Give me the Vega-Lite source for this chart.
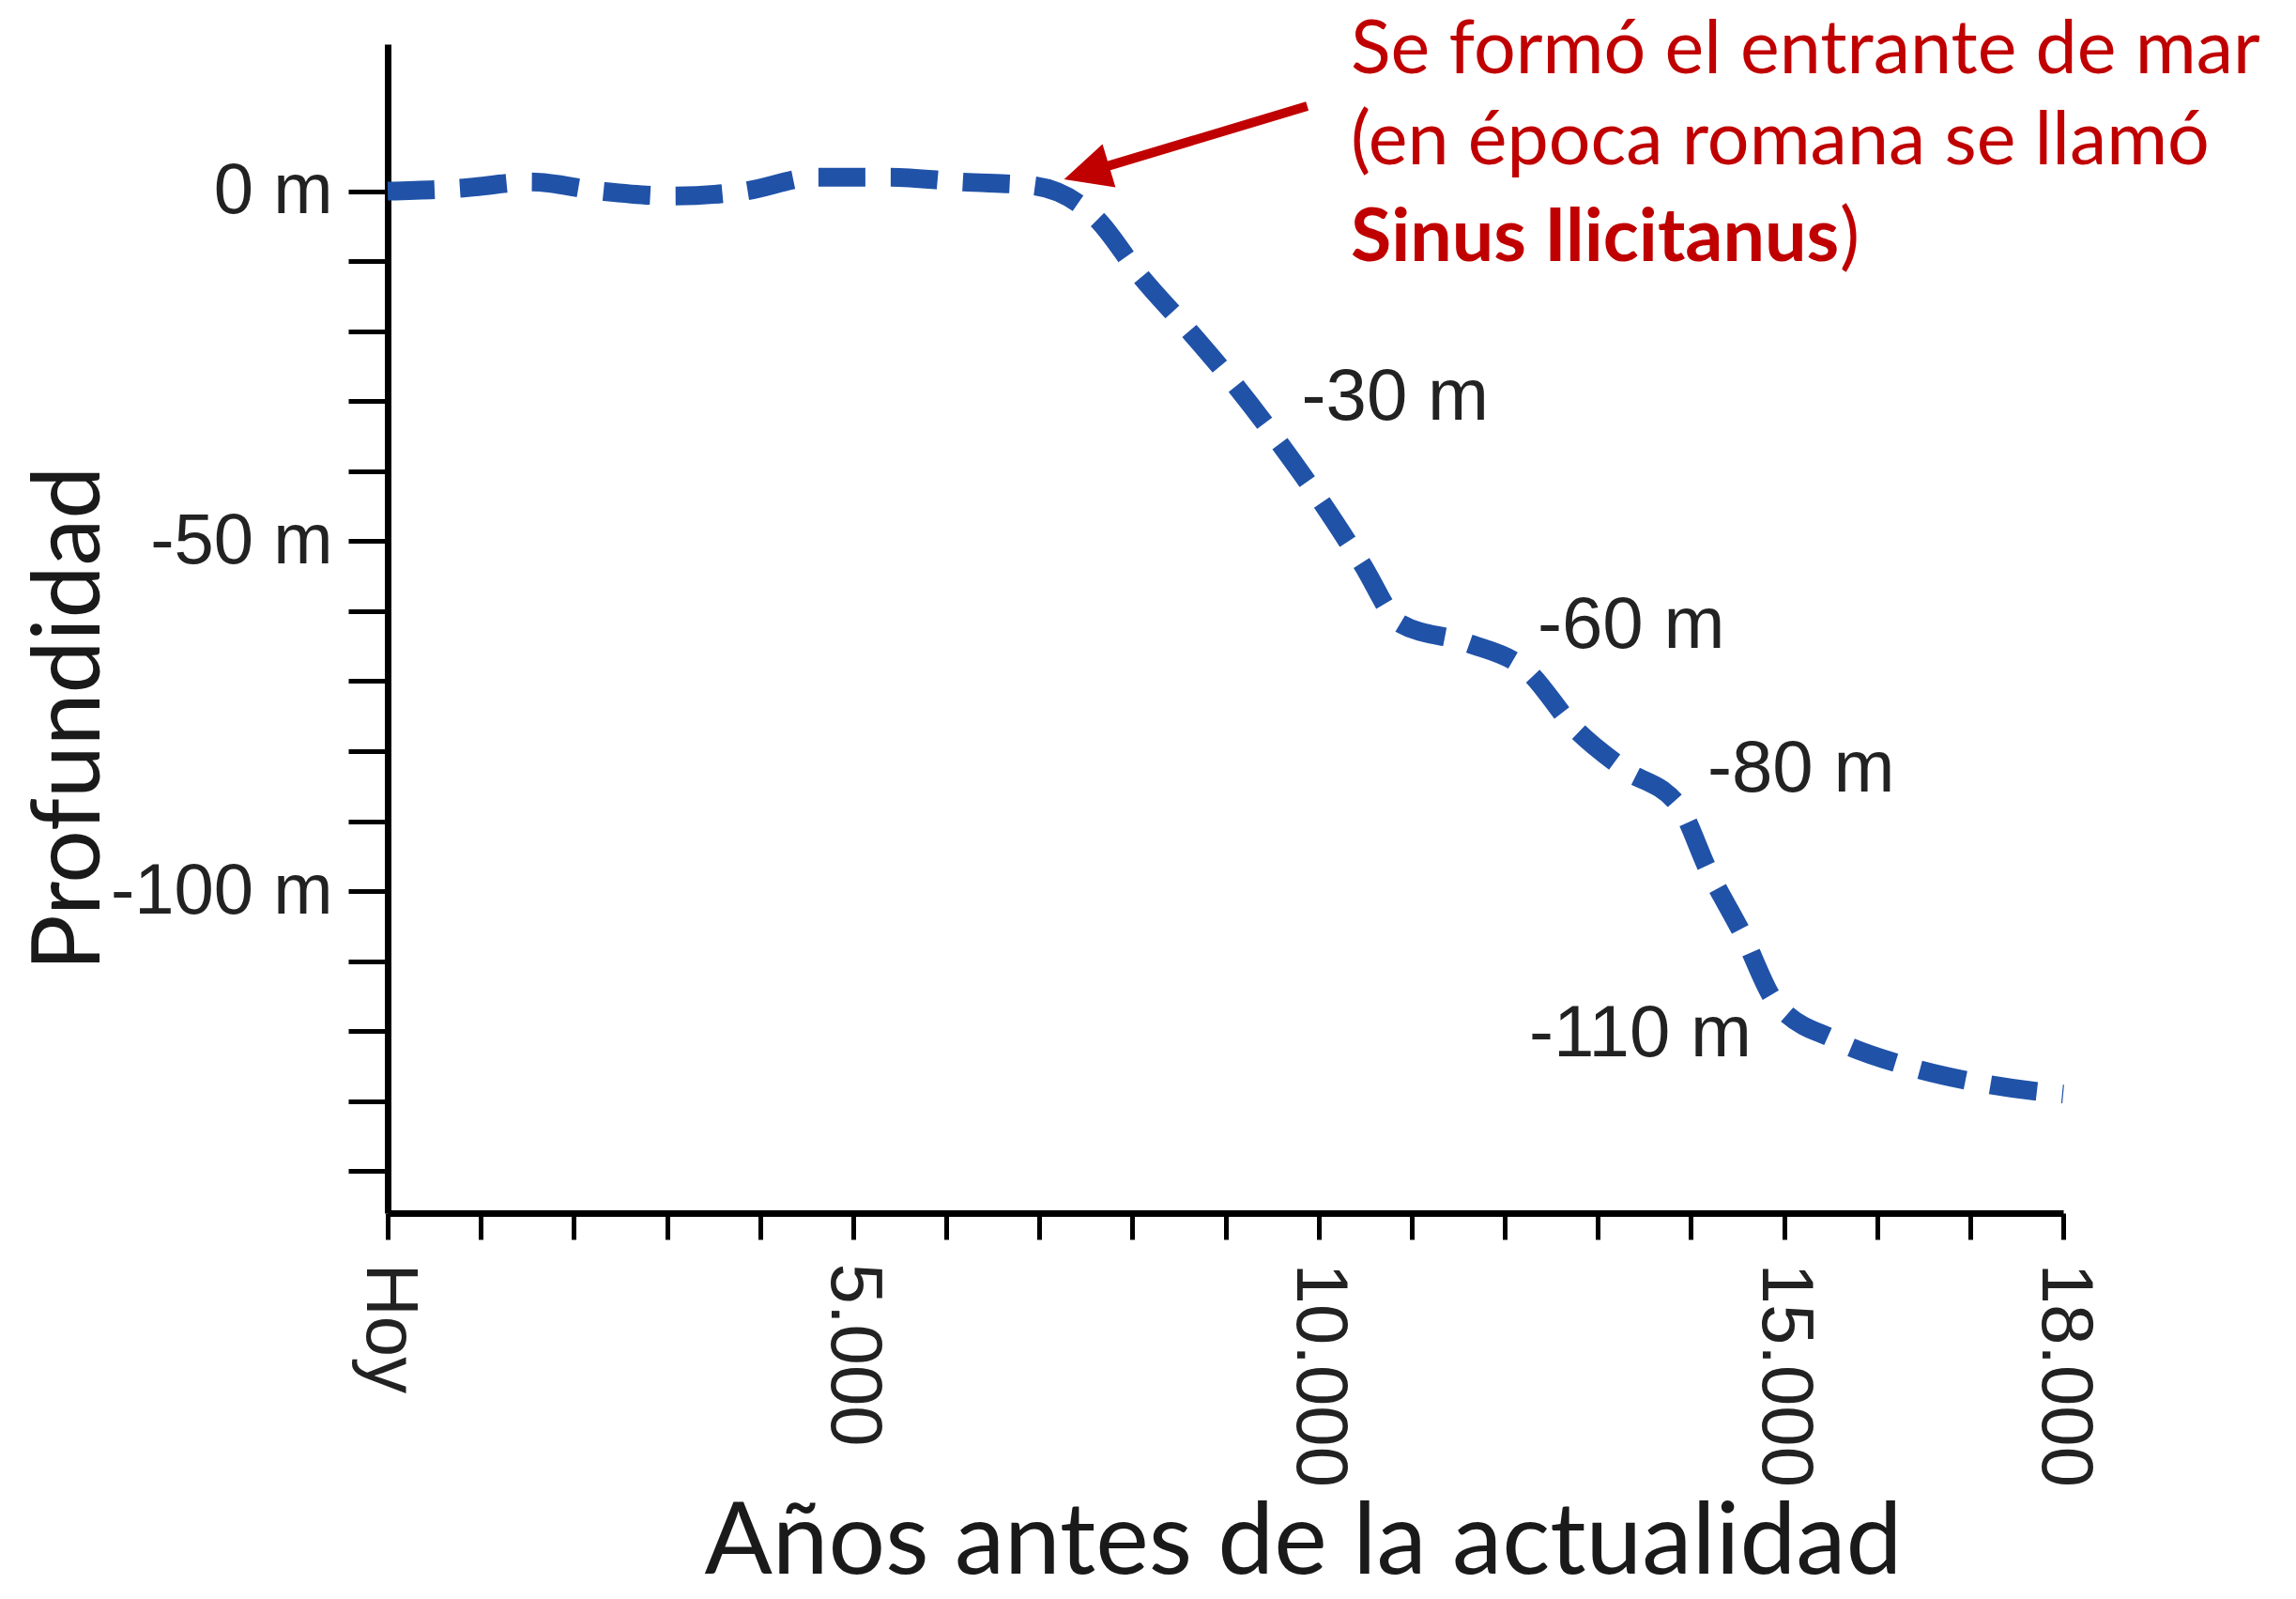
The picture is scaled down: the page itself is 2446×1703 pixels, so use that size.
{
  "$schema": "https://vega.github.io/schema/vega-lite/v6.json",
  "width": 1785,
  "height": 1245,
  "autosize": {"type": "none"},
  "padding": {"left": 413, "top": 47, "right": 248, "bottom": 411},
  "background": "white",
  "config": {"view": {"stroke": null}, "axis": {"grid": false}},
  "datasets": {
    "curva": [
      {"anos": 0, "prof": 0},
      {"anos": 770, "prof": 0.4},
      {"anos": 1540, "prof": 1.3},
      {"anos": 2290, "prof": 0},
      {"anos": 3060, "prof": -0.7},
      {"anos": 3830, "prof": 0},
      {"anos": 4600, "prof": 2},
      {"anos": 5400, "prof": 2},
      {"anos": 6180, "prof": 1.3},
      {"anos": 6920, "prof": 0.8},
      {"anos": 7620, "prof": -4},
      {"anos": 8080, "prof": -12},
      {"anos": 8600, "prof": -19.8},
      {"anos": 9090, "prof": -27.5},
      {"anos": 9570, "prof": -35.8},
      {"anos": 10020, "prof": -44.2},
      {"anos": 10460, "prof": -53.1},
      {"anos": 10880, "prof": -61.8},
      {"anos": 11590, "prof": -64.5},
      {"anos": 12250, "prof": -68.6},
      {"anos": 12750, "prof": -76.7},
      {"anos": 13285, "prof": -82.6},
      {"anos": 13875, "prof": -87.9},
      {"anos": 14190, "prof": -97.1},
      {"anos": 14550, "prof": -106},
      {"anos": 14910, "prof": -115.9},
      {"anos": 15540, "prof": -121.2},
      {"anos": 16270, "prof": -124.8},
      {"anos": 17020, "prof": -127.2},
      {"anos": 17770, "prof": -128.7},
      {"anos": 18000, "prof": -129}
    ],
    "etiquetas": [
      {"anos": 9818, "prof": -32.6, "texto": "-30 m"},
      {"anos": 12353, "prof": -65.3, "texto": "-60 m"},
      {"anos": 14178, "prof": -85.8, "texto": "-80 m"},
      {"anos": 12262, "prof": -123.6, "texto": "-110 m"}
    ],
    "nota": [
      {"anos": 10346, "prof": 16.8, "texto": "Se formó el entrante de mar"},
      {"anos": 10346, "prof": 3.84, "texto": "(en época romana se llamó"},
      {"anos": 15600, "prof": -10.0, "texto": ")"}
    ],
    "nota_negrita": [
      {"anos": 10346, "prof": -10.0, "texto": "Sinus Ilicitanus"}
    ],
    "flecha": [
      {"anos": 9879, "prof": 12.15, "anos2": 7508, "prof2": 2.67}
    ]
  },
  "layer": [
    {
      "data": {"name": "curva"},
      "mark": {"type": "line", "color": "#2052a8", "strokeWidth": 20, "strokeDash": [50, 27], "strokeCap": "butt", "interpolate": "monotone"},
      "encoding": {
        "x": {
          "field": "anos", "type": "quantitative",
          "scale": {"domain": [0, 18000], "nice": false, "zero": false},
          "axis": {
            "values": [0, 1000, 2000, 3000, 4000, 5000, 6000, 7000, 8000, 9000, 10000, 11000, 12000, 13000, 14000, 15000, 16000, 17000, 18000],
            "labelExpr": "datum.value == 0 ? 'Hoy' : ((datum.value % 5000 == 0 || datum.value == 18000) ? replace(format(datum.value, ','), ',', '.') : '')",
            "labelAngle": 90,
            "labelAlign": "left",
            "labelBaseline": "middle",
            "labelFont": "Liberation Sans",
            "labelFontSize": 78,
            "labelColor": "#222222",
            "labelPadding": 25,
            "labelLimit": 0,
            "labelOverlap": false,
            "labelFlush": false,
            "tickSize": 28,
            "tickWidth": 5,
            "tickColor": "black",
            "domainColor": "black",
            "domainWidth": 7,
            "title": "Años antes de la actualidad",
            "titleFont": "Lato",
            "titleFontSize": 107,
            "titleFontWeight": "normal",
            "titleColor": "#1a1a1a",
            "titleLimit": 0,
            "titleX": 975,
            "titleY": 383,
            "titleBaseline": "alphabetic",
            "titleAlign": "center"
          }
        },
        "y": {
          "field": "prof", "type": "quantitative",
          "scale": {"domain": [-146, 21], "nice": false, "zero": false},
          "axis": {
            "values": [0, -10, -20, -30, -40, -50, -60, -70, -80, -90, -100, -110, -120, -130, -140],
            "labelExpr": "datum.value % 50 == 0 ? datum.value + ' m' : ''",
            "labelFont": "Liberation Sans",
            "labelFontSize": 76,
            "labelColor": "#222222",
            "labelPadding": 17,
            "labelLimit": 0,
            "labelOverlap": false,
            "labelFlush": false,
            "tickSize": 42,
            "tickWidth": 5,
            "tickColor": "black",
            "domainColor": "black",
            "domainWidth": 7,
            "title": "Profundidad",
            "titleFont": "Lato",
            "titleFontSize": 100,
            "titleFontWeight": "normal",
            "titleColor": "#1a1a1a",
            "titleLimit": 0,
            "titleAngle": -90,
            "titleX": -308,
            "titleY": 718,
            "titleBaseline": "alphabetic",
            "titleAlign": "center"
          }
        }
      }
    },
    {
      "data": {"name": "flecha"},
      "mark": {"type": "rule", "color": "#c00000", "strokeWidth": 10},
      "encoding": {
        "x": {"field": "anos", "type": "quantitative"},
        "y": {"field": "prof", "type": "quantitative"},
        "x2": {"field": "anos2"},
        "y2": {"field": "prof2"}
      }
    },
    {
      "data": {"name": "flecha"},
      "mark": {"type": "point", "shape": "M0,-1L0.96,1L-0.96,1Z", "size": 2500, "angle": 253.2, "filled": true, "color": "#c00000", "opacity": 1, "strokeWidth": 0},
      "encoding": {
        "x": {"field": "anos2", "type": "quantitative"},
        "y": {"field": "prof2", "type": "quantitative"}
      }
    },
    {
      "data": {"name": "etiquetas"},
      "mark": {"type": "text", "align": "left", "baseline": "alphabetic", "font": "Liberation Sans", "fontSize": 78, "color": "#222222"},
      "encoding": {
        "x": {"field": "anos", "type": "quantitative"},
        "y": {"field": "prof", "type": "quantitative"},
        "text": {"field": "texto"}
      }
    },
    {
      "data": {"name": "nota"},
      "mark": {"type": "text", "align": "left", "baseline": "alphabetic", "font": "Lato", "fontSize": 79, "color": "#c00000"},
      "encoding": {
        "x": {"field": "anos", "type": "quantitative"},
        "y": {"field": "prof", "type": "quantitative"},
        "text": {"field": "texto"}
      }
    },
    {
      "data": {"name": "nota_negrita"},
      "mark": {"type": "text", "align": "left", "baseline": "alphabetic", "font": "Lato", "fontSize": 79, "fontWeight": "bold", "color": "#c00000"},
      "encoding": {
        "x": {"field": "anos", "type": "quantitative"},
        "y": {"field": "prof", "type": "quantitative"},
        "text": {"field": "texto"}
      }
    }
  ]
}
